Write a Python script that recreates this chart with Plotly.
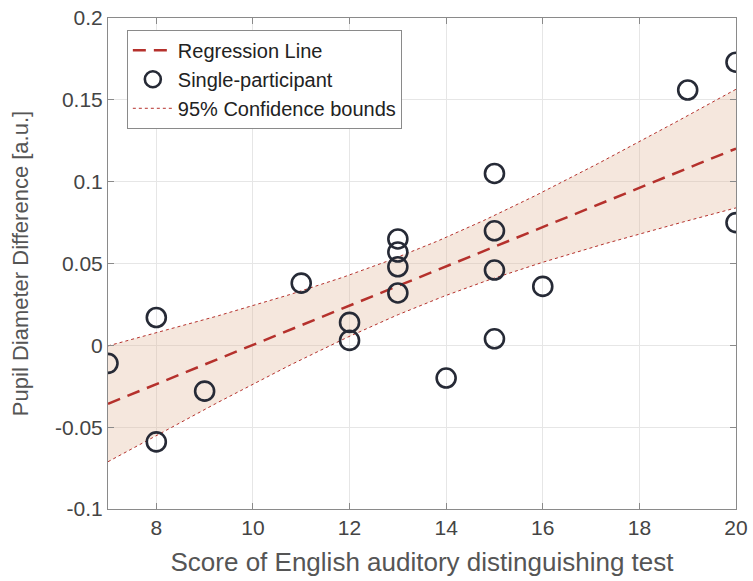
import numpy as np
import plotly.graph_objects as go

# Data
score = [7, 8, 8, 9, 11, 12, 12, 13, 13, 13, 13, 14, 15, 15, 15, 15, 16, 19, 20, 20]
pupil = [-0.011, 0.017, -0.059, -0.028, 0.038, 0.014, 0.003, 0.065, 0.057, 0.048, 0.032,
         -0.020, 0.105, 0.070, 0.046, 0.004, 0.036, 0.156, 0.173, 0.075]
x_ticks = [8, 10, 12, 14, 16, 18, 20]
y_ticks = [-0.1, -0.05, 0, 0.05, 0.1, 0.15, 0.2]
y_ticktext = ["-0.1", "-0.05", "0", "0.05", "0.1", "0.15", "0.2"]

x = np.array(score, float)
y = np.array(pupil, float)
n = len(x)
slope, intercept = np.polyfit(x, y, 1)
resid = y - (slope * x + intercept)
s = np.sqrt(np.sum(resid ** 2) / (n - 2))
sxx = np.sum((x - x.mean()) ** 2)
t_crit = 2.1009  # t(0.975, df=18)
xf = np.linspace(7, 20, 200)
yf = slope * xf + intercept
half = t_crit * s * np.sqrt(1 / n + (xf - x.mean()) ** 2 / sxx)
lo, hi = yf - half, yf + half

FONT = "Liberation Sans, Arial, Helvetica"
red = "#b5312c"
fig = go.Figure()
fig.add_trace(go.Scatter(x=np.concatenate([xf, xf[::-1]]), y=np.concatenate([hi, lo[::-1]]),
                         fill="toself", fillcolor="rgba(225,180,150,0.32)", line=dict(width=0),
                         mode="lines", showlegend=False, hoverinfo="skip"))
fig.add_trace(go.Scatter(x=xf, y=hi, mode="lines", line=dict(color=red, width=1, dash="dot"),
                         name="95% Confidence bounds", legendrank=3))
fig.add_trace(go.Scatter(x=xf, y=lo, mode="lines", line=dict(color=red, width=1, dash="dot"),
                         showlegend=False))
fig.add_trace(go.Scatter(x=xf, y=yf, mode="lines", line=dict(color=red, width=2.5, dash="13px,8px"),
                         name="Regression Line", legendrank=1))
fig.add_trace(go.Scatter(x=score, y=pupil, mode="markers",
                         marker=dict(symbol="circle-open", size=19, color="#262a36",
                                     line=dict(width=2.6, color="#262a36")),
                         name="Single-participant", legendrank=2))

axis_common = dict(showgrid=True, gridcolor="#e6e6e6", gridwidth=1, zeroline=False,
                   showline=True, linecolor="#8a8a8a", linewidth=1, mirror="ticks",
                   ticks="inside", ticklen=6, tickcolor="#8a8a8a", automargin=False,
                   tickfont=dict(size=21, color="#444", family=FONT))
fig.update_xaxes(range=[7, 20], tickvals=x_ticks, **axis_common,
                 title=dict(text="Score of English auditory distinguishing test",
                            font=dict(size=26, color="#555", family=FONT),
                            standoff=14))
fig.update_yaxes(range=[-0.1, 0.2], tickvals=y_ticks, ticktext=y_ticktext, **axis_common,
                 title=dict(text="Pupil Diameter Difference [a.u.]",
                            font=dict(size=22, color="#555", family=FONT),
                            standoff=20))
fig.update_layout(
    width=753, height=581,
    margin=dict(l=108, r=17, t=18, b=72),
    plot_bgcolor="white", paper_bgcolor="white",
    font=dict(family=FONT, color="#222"),
    legend=dict(x=0.03, y=0.976, xanchor="left", yanchor="top", bgcolor="white",
                bordercolor="#8a8a8a", borderwidth=1, font=dict(size=20, color="#222"),
                tracegroupgap=0, itemwidth=40),
)
fig.write_html("out.html", config={"displayModeBar": False},
               post_script="document.body.style.margin='0';")
